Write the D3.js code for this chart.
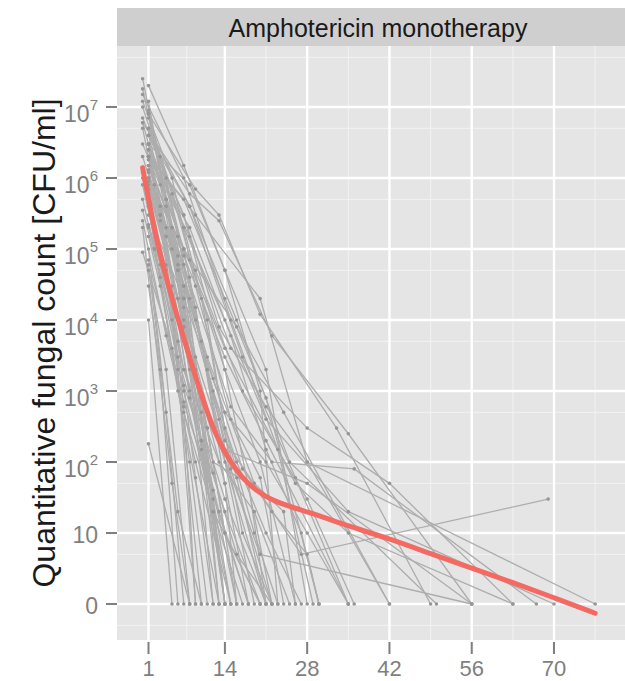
<!DOCTYPE html>
<html>
<head>
<meta charset="utf-8">
<script src="https://cdn.jsdelivr.net/npm/d3@7"></script>
<style>
  body { margin: 0; background: #fff; }
  svg { font-family: "Liberation Sans", Arial, sans-serif; }
</style>
</head>
<body>
<svg class="SpaghettiChart" width="625" height="681"></svg>
<script>
// facet label and axis ticks
var stripLabel = "Amphotericin monotherapy";
var yTitle = "Quantitative fungal count [CFU/ml]";
var xTicks = [1, 14, 28, 42, 56, 70];
var xMinorTicks = [7.5, 21, 35, 49, 63, 77];
var yTicks = [1, 10, 100, 1e3, 1e4, 1e5, 1e6, 1e7];
var yTickBase = ["0", "10", "10", "10", "10", "10", "10", "10"];
var yTickSup = ["", "", "2", "3", "4", "5", "6", "7"];
var yMinorTicks = [0.5, 5, 50, 500, 5e3, 5e4, 5e5, 5e6, 5e7];

// one entry per patient: sampling day and CFU/ml (0 = sterile culture)
var patientDays = [
  [0, 7, 14], [0, 4, 8, 14], [1, 7, 12], [0, 3, 7, 11, 16], [1, 5, 9, 13],
  [1, 4, 8, 15], [0, 6, 10, 14], [1, 3, 7, 9], [1, 7, 14, 18], [0, 5, 10],
  [1, 4, 7, 14, 21], [1, 6, 13], [0, 4, 9, 15], [1, 5], [1, 8],
  [1, 3, 7, 12, 17], [0, 7, 14, 20], [1, 4, 8], [1, 7, 10, 14, 19], [0, 3, 6, 10, 13],
  [1, 7, 11, 15, 22], [1, 5, 8, 12, 16], [0, 4, 7, 10, 14], [1, 3, 8, 13, 21], [1, 6, 9, 13, 17, 22],
  [1, 7, 12, 16, 22], [1, 7, 14, 18], [0, 3, 7, 12, 20], [1, 5, 9, 14, 16],
  [1, 9, 13, 20, 33, 49], [0, 8, 13, 22, 35, 56], [1, 8, 14, 21, 28], [1, 7, 14, 21, 30],
  [0, 7, 15, 23, 29], [1, 8, 17, 26, 35], [1, 7, 16, 24, 42], [1, 9, 17, 28, 36],
  [1, 8, 15, 21, 27, 30], [0, 7, 14, 20, 26], [1, 8, 14, 22], [1, 7, 14, 21, 28, 35],
  [1, 7, 14, 27, 69], [1, 8, 15, 28, 42, 63], [1, 7, 14, 21, 35, 70], [0, 7, 15, 22, 36, 67],
  [1, 8, 16, 25, 50], [1, 7, 14, 28, 56], [1, 9, 20, 28, 77], [1, 7, 13, 21, 28, 42],
  [1, 7, 14, 21, 35], [1, 6, 12, 20, 56], [1, 7, 14, 26, 35, 63],
  [1, 2, 4, 6, 9], [0, 2, 5, 8, 11], [1, 3, 5, 8, 12, 15], [1, 4, 6, 10, 14],
  [0, 2, 6, 9, 12], [1, 3, 6, 10, 13, 18], [1, 5, 10, 14, 19, 23], [1, 4, 9, 12, 18, 21],
  [0, 5, 9, 15, 20, 24], [1, 7, 12, 17, 22, 28, 30], [1, 6, 11, 16, 21], [1, 3, 7, 11, 14, 20],
  [1, 2, 7, 13, 19, 25], [0, 4, 8, 12, 16, 21, 27], [1, 6, 11, 19, 24, 26], [1, 7, 14, 20, 23],
  [1, 4, 7], [1, 3, 6], [0, 5, 8], [1, 6, 10]
];
var patientCounts = [
  [2.5e7, 3e4, 0], [1.8e7, 5e5, 2e3, 0], [1.2e7, 2e4, 0], [6e6, 8e5, 1.5e4, 300, 0], [4e6, 2e5, 3e3, 0],
  [3e6, 1.5e5, 800, 0], [2e6, 5e4, 200, 0], [1.5e6, 4e5, 600, 0], [1e6, 8e3, 50, 0], [8e5, 1e4, 0],
  [6e5, 5e4, 2e3, 30, 0], [4e5, 1e3, 0], [2.5e5, 6e3, 100, 0], [1e4, 0], [180, 0],
  [1.5e5, 3e4, 500, 20, 0], [9e4, 1.2e3, 20, 0], [5e4, 2e3, 0], [3e6, 1e5, 5e3, 100, 0], [5e6, 3e5, 2e4, 150, 0],
  [7e6, 2e5, 1e4, 80, 0], [2e6, 1e5, 3e3, 40, 0], [1e7, 1e6, 6e4, 500, 0], [8e6, 2e6, 4e4, 200, 0], [1.2e6, 6e4, 1e4, 400, 10, 0],
  [2.2e5, 5e3, 70, 5, 0], [7e4, 700, 10, 0], [3.5e5, 4e4, 1e3, 20, 0], [1.8e6, 2e5, 1.5e4, 50, 0],
  [8e6, 7e5, 3e5, 1.2e4, 300, 0], [6e6, 6e5, 2.5e5, 6e3, 250, 0], [3e6, 8e5, 5e4, 2e3, 0], [2e6, 5e5, 2e4, 800, 0],
  [1.5e7, 1e6, 1e4, 150, 0], [4e6, 4e5, 3e3, 60, 0], [1e6, 1e5, 8e3, 500, 0], [5e5, 5e4, 1e3, 30, 0],
  [2e6, 2e5, 6e3, 150, 10, 0], [7e6, 3e5, 2e3, 100, 0], [9e5, 7e4, 2e3, 0], [3e5, 2e4, 500, 100, 10, 0],
  [1e6, 3e4, 200, 5, 30], [2e6, 1.5e5, 4e3, 300, 50, 0], [3e6, 2e5, 1e4, 400, 20, 0], [1.2e6, 6e4, 600, 100, 80, 0],
  [5e6, 4e5, 1e4, 100, 0], [8e5, 1e4, 150, 50, 0], [2e6, 3e5, 2e4, 100, 0], [4e6, 3e5, 8e3, 600, 100, 0],
  [1.5e6, 8e4, 3e3, 200, 0], [7e5, 2e4, 300, 5, 0], [2.5e6, 1e5, 4e3, 50, 10, 0],
  [3e6, 8e5, 6e4, 2e3, 0], [5e5, 1e5, 4e3, 100, 0], [2e6, 3e5, 3e4, 1e3, 30, 0], [8e6, 4e5, 5e4, 800, 0],
  [1e6, 2e5, 5e3, 60, 0], [4e5, 6e4, 3e3, 200, 20, 0], [5e6, 6e5, 2e4, 300, 10, 0], [2.5e6, 2e5, 2e3, 100, 50, 0],
  [1.2e7, 1e6, 3e4, 400, 60, 0], [6e5, 3e4, 1.5e3, 80, 20, 5, 0], [9e6, 1.5e5, 2e3, 60, 0], [1.3e6, 2.5e5, 8e3, 300, 10, 0],
  [2e5, 1e5, 2e3, 100, 20, 0], [3e6, 5e5, 2e4, 1e3, 100, 10, 0], [7e5, 8e4, 3e3, 50, 20, 0], [2e7, 1.5e6, 5e4, 1e3, 0],
  [1e5, 500, 0], [3e4, 2e3, 0], [2e5, 50, 0], [6e4, 20, 0]
];

// smoother
var smoothDays = [0, 2.6, 5.9, 9.3, 12.3, 15.4, 18.3, 22.2, 28, 35.3, 42, 49, 56, 63, 70, 77];
var smoothCounts = [1.4e6, 9.8e4, 1.1e4, 1290, 240, 85, 45, 27.5, 20, 12.3, 8.3, 5.1, 3.2, 2.0, 1.23, 0.74];

var metaForChart = {};

function renderChart()
{
    var svg = d3.select(".SpaghettiChart");
    var panel = { 'left': 117, 'right': 639, 'top': 46, 'bottom': 640 };

    var xScale = d3.scaleLinear()
        .domain([-4.36, 84.46])
        .range([panel.left, panel.right]);

    var yScale = d3.scaleLog()
        .domain([Math.pow(10, -0.507), Math.pow(10, 7.859)])
        .range([panel.bottom, panel.top]);

    metaForChart['x'] = xScale;
    metaForChart['y'] = yScale;

    // count 0 sits on the "0" row (value 1 on the log axis)
    var yPos = function(v) { return yScale(v <= 0 ? 1 : v); };

    // strip
    svg.append('rect')
        .attr('x', panel.left).attr('y', 8)
        .attr('width', panel.right - panel.left).attr('height', panel.top - 8)
        .attr('fill', '#cfcfcf');
    svg.append('text')
        .attr('x', (panel.left + panel.right) / 2)
        .attr('y', 37)
        .attr('text-anchor', 'middle')
        .attr('font-size', 25)
        .attr('fill', '#1a1a1a')
        .text(stripLabel);

    // panel background and grid
    svg.append('rect')
        .attr('x', panel.left).attr('y', panel.top)
        .attr('width', panel.right - panel.left).attr('height', panel.bottom - panel.top)
        .attr('fill', '#e5e5e5');

    var grid = svg.append('g').attr('class', 'grid');
    grid.selectAll('.hminor').data(yMinorTicks).enter().append('line')
        .attr('x1', panel.left).attr('x2', panel.right)
        .attr('y1', d => yScale(d)).attr('y2', d => yScale(d))
        .attr('stroke', '#f2f2f2').attr('stroke-width', 1);
    grid.selectAll('.vminor').data(xMinorTicks).enter().append('line')
        .attr('y1', panel.top).attr('y2', panel.bottom)
        .attr('x1', d => xScale(d)).attr('x2', d => xScale(d))
        .attr('stroke', '#f2f2f2').attr('stroke-width', 1);
    grid.selectAll('.hmajor').data(yTicks).enter().append('line')
        .attr('x1', panel.left).attr('x2', panel.right)
        .attr('y1', d => yScale(d)).attr('y2', d => yScale(d))
        .attr('stroke', '#ffffff').attr('stroke-width', 2.4);
    grid.selectAll('.vmajor').data(xTicks).enter().append('line')
        .attr('y1', panel.top).attr('y2', panel.bottom)
        .attr('x1', d => xScale(d)).attr('x2', d => xScale(d))
        .attr('stroke', '#ffffff').attr('stroke-width', 2.4);

    svg.append('clipPath').attr('id', 'panelClip')
        .append('rect')
        .attr('x', panel.left).attr('y', panel.top)
        .attr('width', panel.right - panel.left).attr('height', panel.bottom - panel.top);

    var holder = svg.append('g').attr('clip-path', 'url(#panelClip)');

    var patients = patientDays.map((days, i) =>
        days.map((d, j) => ({ 'day': d, 'count': patientCounts[i][j] })));

    var line = d3.line()
        .x(d => xScale(d.day))
        .y(d => yPos(d.count));

    holder.selectAll('.patient')
        .data(patients)
        .enter()
        .append('path')
        .attr('class', 'patient')
        .attr('d', line)
        .attr('fill', 'none')
        .attr('stroke', '#adadad')
        .attr('stroke-width', 1.3);

    holder.selectAll('.point')
        .data(patients.flat())
        .enter()
        .append('circle')
        .attr('class', 'point')
        .attr('cx', d => xScale(d.day))
        .attr('cy', d => yPos(d.count))
        .attr('r', 1.8)
        .attr('fill', '#969696');

    var smooth = smoothDays.map((d, i) => ({ 'day': d, 'count': smoothCounts[i] }));
    holder.append('path')
        .datum(smooth)
        .attr('d', d3.line()
            .x(d => xScale(d.day))
            .y(d => yScale(d.count))
            .curve(d3.curveBasis))
        .attr('fill', 'none')
        .attr('stroke', '#f26a62')
        .attr('stroke-width', 5)
        .attr('stroke-linecap', 'round');

    // y axis
    var yAxis = svg.append('g').attr('class', 'y-axis');
    yAxis.selectAll('.tick')
        .data(yTicks)
        .enter()
        .append('line')
        .attr('x1', 106).attr('x2', panel.left)
        .attr('y1', d => yScale(d)).attr('y2', d => yScale(d))
        .attr('stroke', '#7f7f7f').attr('stroke-width', 2);

    var labels = yAxis.selectAll('.label')
        .data(yTicks)
        .enter()
        .append('text')
        .attr('text-anchor', 'end')
        .attr('x', 98)
        .attr('y', (d, i) => yScale(d) + (yTickSup[i] ? 15 : 9.5))
        .attr('font-size', 23)
        .attr('fill', '#7f7f7f');
    labels.append('tspan').text((d, i) => yTickBase[i]);
    labels.append('tspan')
        .attr('dy', -12)
        .attr('font-size', 15)
        .text((d, i) => yTickSup[i]);

    // x axis
    var xAxis = svg.append('g').attr('class', 'x-axis');
    xAxis.selectAll('.tick')
        .data(xTicks)
        .enter()
        .append('line')
        .attr('x1', d => xScale(d)).attr('x2', d => xScale(d))
        .attr('y1', 642).attr('y2', 654)
        .attr('stroke', '#7f7f7f').attr('stroke-width', 2);
    xAxis.selectAll('.label')
        .data(xTicks)
        .enter()
        .append('text')
        .attr('text-anchor', 'middle')
        .attr('x', d => xScale(d))
        .attr('y', 676)
        .attr('font-size', 22)
        .attr('fill', '#7f7f7f')
        .text(d => d);

    svg.append('text')
        .attr('class', 'y-axis-legend')
        .attr('transform', `translate(55, ${(panel.top + panel.bottom) / 2}) rotate(-90)`)
        .attr('text-anchor', 'middle')
        .attr('font-size', 32)
        .attr('fill', '#1a1a1a')
        .text(yTitle);
}

renderChart();
</script>
</body>
</html>
